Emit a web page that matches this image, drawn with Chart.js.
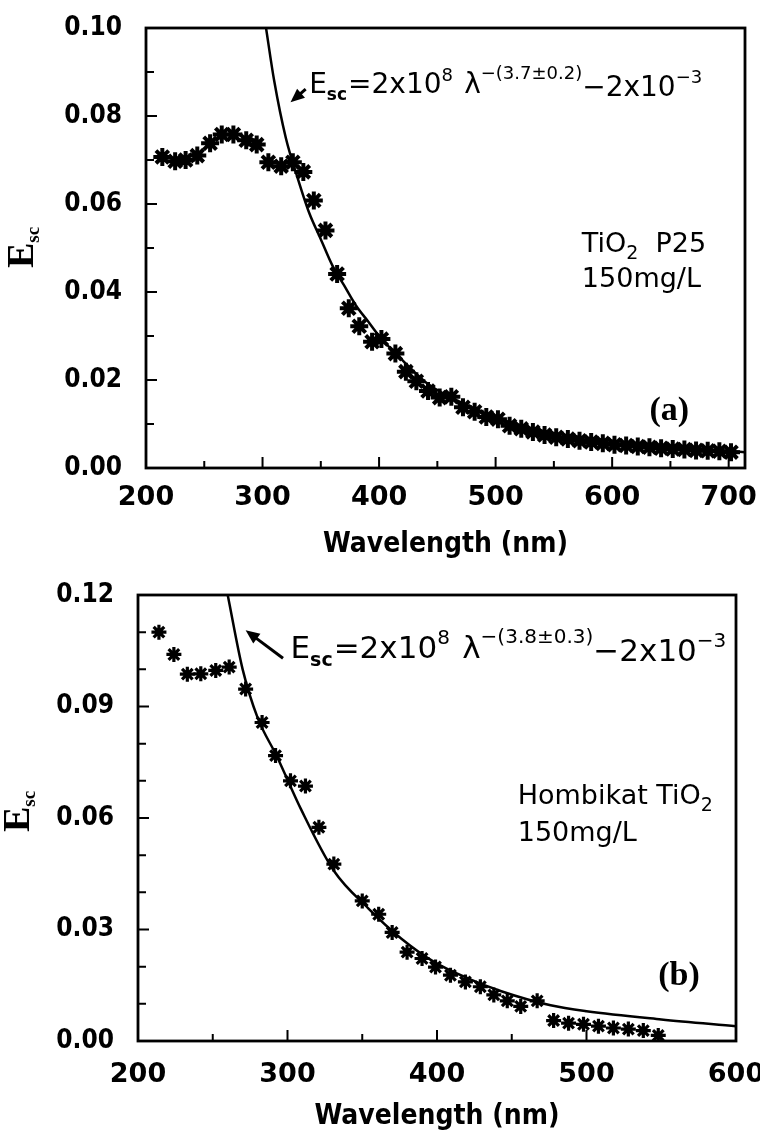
<!DOCTYPE html>
<html>
<head>
<meta charset="utf-8">
<script src="https://cdn.jsdelivr.net/npm/chart.js@4.4.0/dist/chart.umd.min.js"></script>
<style>
  body { margin: 0; background: #fff; width: 760px; height: 1136px; overflow: hidden; }
  canvas { position: absolute; left: 0; }
</style>
</head>
<body>
<canvas id="chartA" width="760" height="570" style="top:0"></canvas>
<canvas id="chartB" width="760" height="566" style="top:570px"></canvas>
<script>
// panel (a): TiO2 P25
const starsA_x = [214, 225, 234, 244, 255, 265, 275, 286, 295, 305, 316, 326, 335, 344, 354, 364, 374, 383, 394, 402,
                  414, 423, 432, 442, 452, 462, 472, 482, 492, 502, 512, 522, 532, 542, 552, 562, 572, 582, 592, 602,
                  612, 622, 632, 642, 652, 662, 672, 682, 692, 702];
const starsA_y = [0.0707, 0.0697, 0.0700, 0.0710, 0.0738, 0.0758, 0.0758, 0.0745, 0.0735, 0.0695,
                  0.0686, 0.0695, 0.0673, 0.0608, 0.0540, 0.0441, 0.0363, 0.0322, 0.0287, 0.0293,
                  0.0260, 0.0219, 0.0197, 0.0175, 0.0160, 0.0162, 0.0138, 0.0128, 0.0116, 0.0111,
                  0.0096, 0.0089, 0.0082, 0.0075, 0.0070, 0.0066, 0.0062, 0.0059, 0.0056, 0.0053,
                  0.0051, 0.0049, 0.0047, 0.0045, 0.0043, 0.0042, 0.0040, 0.0039, 0.0038, 0.0036];
const fitA_x = [303, 310, 320, 330, 340, 350, 360, 370, 380, 390, 400, 420, 440, 460, 480, 500, 520, 540, 560, 600, 650, 700, 714];
const fitA_y = [0.100, 0.088, 0.075, 0.066, 0.058, 0.052, 0.046, 0.0415, 0.037, 0.0335, 0.030, 0.0245, 0.0195,
                0.0162, 0.0138, 0.0115, 0.0098, 0.0085, 0.0075, 0.0062, 0.0049, 0.0039, 0.0036];

// panel (b): Hombikat TiO2
const starsB_x = [214, 224, 233, 242, 252, 261, 272, 283, 292, 302, 312, 321, 331, 350, 361, 370, 380, 390, 399, 409,
                  419, 429, 438, 447, 456, 467, 478, 488, 498, 508, 518, 528, 538, 548];
const starsB_y = [0.110, 0.104, 0.0987, 0.0988, 0.0997, 0.1006, 0.0947, 0.0857, 0.0768, 0.070,
                  0.0686, 0.0575, 0.0476, 0.0377, 0.0341, 0.0292, 0.0239, 0.0222, 0.0199, 0.0177,
                  0.0159, 0.0146, 0.0124, 0.0108, 0.0093, 0.0108, 0.0055, 0.0048, 0.0045, 0.0040,
                  0.0035, 0.0032, 0.0028, 0.0015];
const fitB_x = [260, 270, 280, 293, 309, 331, 354, 376, 398, 421, 443, 476, 500, 550, 600];
const fitB_y = [0.120, 0.100, 0.087, 0.0765, 0.0624, 0.0458, 0.0357, 0.0276, 0.0213, 0.0168, 0.0134, 0.0096, 0.0080, 0.0058, 0.0040];

const xTickFont = { family: 'DejaVu Sans', weight: 'bold', size: 27 };
const yTickFont = { family: 'DejaVu Sans Condensed', weight: 'bold', size: 26 };

function pts(xs, ys) { return xs.map((x, i) => ({ x: x, y: ys[i] })); }

function drawRuns(ctx, x, y, runs) {
  for (const r of runs) {
    ctx.font = r.font;
    ctx.fillText(r.t, x, y + (r.dy || 0));
    x += ctx.measureText(r.t).width + (r.gap || 0);
  }
}

// frame, inward ticks, labels
const decor = {
  id: 'decor',
  afterDraw(chart, args, o) {
    const { ctx, chartArea: a, scales } = chart;
    const sx = scales.x, sy = scales.y;
    ctx.save();
    ctx.strokeStyle = '#000';
    ctx.fillStyle = '#000';
    ctx.lineWidth = 2.8;
    ctx.strokeRect(a.left, a.top, a.right - a.left, a.bottom - a.top);
    ctx.lineWidth = 2;
    ctx.beginPath();
    for (let v = o.xFrom; v <= o.xTo + 1e-9; v += o.xMinor) {
      const p = sx.getPixelForValue(v);
      const len = Math.abs(v % o.xMajor) < 1e-6 ? 11 : 7;
      ctx.moveTo(p, a.bottom); ctx.lineTo(p, a.bottom - len);
    }
    for (let v = 0; v <= o.yTo + 1e-9; v += o.yMinor) {
      const p = sy.getPixelForValue(v);
      const major = Math.abs(v / o.yMajor - Math.round(v / o.yMajor)) < 1e-6;
      ctx.moveTo(a.left, p); ctx.lineTo(a.left + (major ? 11 : 8), p);
    }
    ctx.stroke();

    // arrow to the fit curve
    const hx = sx.getPixelForValue(o.arrow[0]), hy = sy.getPixelForValue(o.arrow[1]);
    const tx = sx.getPixelForValue(o.arrow[2]), ty = sy.getPixelForValue(o.arrow[3]);
    const ang = Math.atan2(hy - ty, hx - tx);
    ctx.lineWidth = 3;
    ctx.beginPath(); ctx.moveTo(tx, ty); ctx.lineTo(hx - 8 * Math.cos(ang), hy - 8 * Math.sin(ang)); ctx.stroke();
    ctx.beginPath();
    ctx.moveTo(hx, hy);
    ctx.lineTo(hx - 14 * Math.cos(ang) + 6 * Math.sin(ang), hy - 14 * Math.sin(ang) - 6 * Math.cos(ang));
    ctx.lineTo(hx - 14 * Math.cos(ang) - 6 * Math.sin(ang), hy - 14 * Math.sin(ang) + 6 * Math.cos(ang));
    ctx.closePath(); ctx.fill();

    // equation
    const s = o.eqSize, f = 'DejaVu Sans';
    ctx.textAlign = 'left';
    ctx.textBaseline = 'alphabetic';
    drawRuns(ctx, sx.getPixelForValue(o.eqAt[0]), sy.getPixelForValue(o.eqAt[1]), [
      { t: 'E', font: `${s}px ${f}` },
      { t: 'sc', font: `bold ${Math.round(s * 0.62)}px ${f}`, dy: s * 0.25, gap: 1 },
      { t: '=2x10', font: `${s}px ${f}` },
      { t: '8', font: `${Math.round(s * 0.65)}px ${f}`, dy: -s * 0.45, gap: s * 0.4 },
      { t: 'λ', font: `${s}px ${f}` },
      { t: '−(' + o.expo + ')', font: `${Math.round(s * 0.64)}px ${f}`, dy: -s * 0.5 },
      { t: '−2x10', font: `${s}px ${f}`, dy: s * 0.1 },
      { t: '−3', font: `${Math.round(s * 0.66)}px ${f}`, dy: -s * 0.35 }
    ]);

    // sample label
    const lx = sx.getPixelForValue(o.sample[0]);
    drawRuns(ctx, lx, sy.getPixelForValue(o.sample[1]), o.sampleRuns);
    ctx.font = `${o.sampleSize}px ${f}`;
    ctx.fillText('150mg/L', lx, sy.getPixelForValue(o.sample[2]));

    // panel letter
    ctx.font = 'bold 34px "Liberation Serif"';
    ctx.fillText(o.letter, sx.getPixelForValue(o.letterAt[0]), sy.getPixelForValue(o.letterAt[1]));

    // y title E_sc
    ctx.translate(o.yTitle[0], o.yTitle[1]);
    ctx.rotate(-Math.PI / 2);
    ctx.font = 'bold 38px "Liberation Serif"';
    ctx.fillText('E', 0, 0);
    const w = ctx.measureText('E').width;
    ctx.font = 'bold 19px "Liberation Serif"';
    ctx.fillText('sc', w, 6);
    ctx.restore();
  }
};

function makeChart(id, cfg) {
  return new Chart(document.getElementById(id), {
    type: 'scatter',
    data: {
      datasets: [{
        label: 'measured',
        data: pts(cfg.sx, cfg.sy),
        pointStyle: 'star',
        pointRadius: cfg.starR,
        pointBorderWidth: cfg.starW,
        borderColor: '#000',
        backgroundColor: '#000'
      }, {
        label: 'fit',
        data: pts(cfg.fx, cfg.fy),
        showLine: true,
        pointRadius: 0,
        borderColor: '#000',
        borderWidth: 2.5,
        cubicInterpolationMode: 'monotone'
      }]
    },
    options: {
      responsive: false,
      animation: false,
      layout: { padding: cfg.pad },
      plugins: { legend: { display: false }, tooltip: { enabled: false }, decor: cfg.decor },
      scales: {
        x: {
          type: 'linear', min: cfg.xmin, max: cfg.xmax,
          grid: { display: false }, border: { display: false },
          ticks: { stepSize: 100, includeBounds: false, maxRotation: 0, color: '#000', font: xTickFont, padding: cfg.xpad },
          title: { display: true, text: 'Wavelength (nm)', color: '#000',
                   font: { family: 'DejaVu Sans Condensed', weight: 'bold', size: 28 }, padding: { top: 2, bottom: cfg.tpad } },
          afterFit: (ax) => { ax.height = cfg.xh; ax.paddingLeft = 0; ax.paddingRight = 0; }
        },
        y: {
          min: 0, max: cfg.ymax,
          grid: { display: false }, border: { display: false },
          ticks: { stepSize: cfg.ystep, color: '#000', font: yTickFont, padding: 16, callback: (v) => v.toFixed(2) },
          afterFit: (ax) => { ax.width = cfg.yw; ax.paddingTop = 0; ax.paddingBottom = 0; }
        }
      }
    },
    plugins: [decor]
  });
}

makeChart('chartA', {
  sx: starsA_x, sy: starsA_y, fx: fitA_x, fy: fitA_y, starR: 9, starW: 4,
  xmin: 200, xmax: 714, ymax: 0.10, ystep: 0.02,
  pad: { top: 28, right: 15, left: 0, bottom: 0 }, xh: 102, yw: 146, xpad: 6, tpad: 8,
  decor: {
    xFrom: 200, xTo: 700, xMinor: 50, xMajor: 100, yTo: 0.10, yMinor: 0.01, yMajor: 0.02,
    arrow: [324, 0.0831, 337, 0.0861], eqAt: [340, 0.0852], eqSize: 28, expo: '3.7±0.2',
    sample: [574, 0.0491, 0.0411], sampleSize: 27,
    sampleRuns: [{ t: 'TiO', font: '27px DejaVu Sans' }, { t: '2', font: '19px DejaVu Sans', dy: 7 }, { t: '  P25', font: '27px DejaVu Sans' }],
    letter: '(a)', letterAt: [632, 0.0108], yTitle: [33, 268]
  }
});

makeChart('chartB', {
  sx: starsB_x, sy: starsB_y, fx: fitB_x, fy: fitB_y, starR: 7.5, starW: 3.2,
  xmin: 200, xmax: 600, ymax: 0.12, ystep: 0.03,
  pad: { top: 25, right: 24, left: 0, bottom: 0 }, xh: 95, yw: 138, xpad: 10, tpad: 2,
  decor: {
    xFrom: 200, xTo: 600, xMinor: 50, xMajor: 100, yTo: 0.12, yMinor: 0.01, yMajor: 0.03,
    arrow: [272, 0.1105, 297, 0.103], eqAt: [302, 0.103], eqSize: 31, expo: '3.8±0.3',
    sample: [454, 0.0638, 0.0538], sampleSize: 27,
    sampleRuns: [{ t: 'Hombikat TiO', font: '27px DejaVu Sans' }, { t: '2', font: '19px DejaVu Sans', dy: 7 }],
    letter: '(b)', letterAt: [548, 0.0151], yTitle: [29, 262]
  }
});
</script>
</body>
</html>
